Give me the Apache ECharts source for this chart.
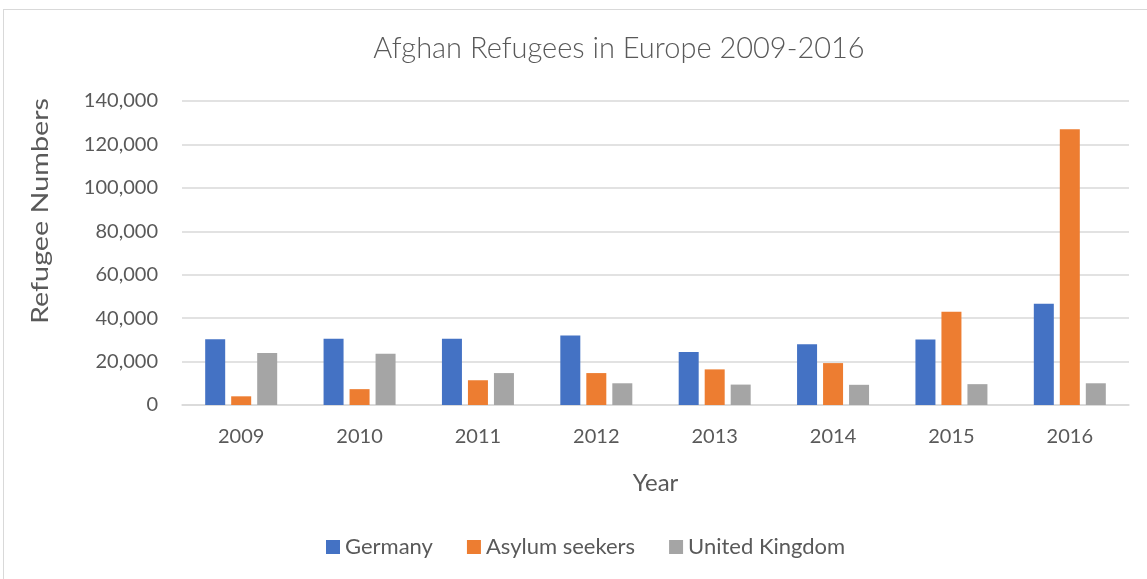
<!DOCTYPE html>
<html><head><meta charset="utf-8">
<script src="https://cdn.jsdelivr.net/npm/echarts@6/dist/echarts.min.js"></script>
<style>
html,body{margin:0;padding:0;background:#fff;}
#frame{position:absolute;left:3px;top:9px;width:1150px;height:575px;border:1px solid #d9d9d9;box-sizing:border-box;}
#chart{position:absolute;left:0;top:0;width:1147px;height:579px;}
</style></head>
<body>
<div id="frame"></div>
<div id="chart"></div>
<script>
const years = ['2009','2010','2011','2012','2013','2014','2015','2016'];
const germany = [30300, 30500, 30500, 32000, 24400, 28000, 30200, 46600];
const asylumSeekers = [4000, 7300, 11400, 14700, 16400, 19300, 42900, 127000];
const unitedKingdom = [23900, 23600, 14700, 10000, 9400, 9300, 9600, 10000];
const yTicks = [0, 20000, 40000, 60000, 80000, 100000, 120000, 140000];
const titleText = 'Afghan Refugees in Europe 2009-2016';
const yName = 'Refugee Numbers';
const xName = 'Year';

const font = 'Lato, "Open Sans", sans-serif';
const txt = '#595959';
const chart = echarts.init(document.getElementById('chart'));
const mk = (name, data, color) => ({
  name, type: 'bar', data, barWidth: 20, barGap: '30%',
  itemStyle: { color }
});
chart.setOption({
  animation: false,
  graphic: [
    { type: 'text', x: 619, y: 49, style: { text: titleText, fill: txt, font: '300 29px ' + font, textAlign: 'center', textVerticalAlign: 'middle' } },
    { type: 'text', x: 41, y: 211, rotation: Math.PI / 2, scaleX: 1.25, style: { text: yName, fill: txt, font: '23px ' + font, textAlign: 'center', textVerticalAlign: 'middle' } }
  ],
  legend: {
    top: 531, left: 321, itemWidth: 14, itemHeight: 14, itemGap: 34,
    icon: 'rect',
    textStyle: { fontFamily: font, fontSize: 22, color: txt },
    data: ['Germany', 'Asylum seekers', 'United Kingdom']
  },
  grid: { left: 182, right: 18, top: 101, bottom: 174, containLabel: false },
  xAxis: {
    type: 'category', data: years,
    name: xName, nameLocation: 'middle', nameGap: 66,
    nameTextStyle: { fontFamily: font, fontSize: 24, color: txt },
    axisLine: { lineStyle: { color: '#d9d9d9', width: 1.5 } },
    axisTick: { show: false },
    axisLabel: { fontFamily: font, fontSize: 20, color: txt, margin: 22 }
  },
  yAxis: {
    type: 'value', min: 0, max: yTicks[yTicks.length - 1], interval: 20000,
    axisLine: { show: false }, axisTick: { show: false },
    splitLine: { lineStyle: { color: '#d9d9d9', width: 1.5 } },
    axisLabel: {
      fontFamily: font, fontSize: 20, color: txt, margin: 24,
      formatter: v => v.toLocaleString('en-US')
    }
  },
  series: [
    mk('Germany', germany, '#4472c4'),
    mk('Asylum seekers', asylumSeekers, '#ed7d31'),
    mk('United Kingdom', unitedKingdom, '#a5a5a5')
  ]
});
</script>
</body></html>
